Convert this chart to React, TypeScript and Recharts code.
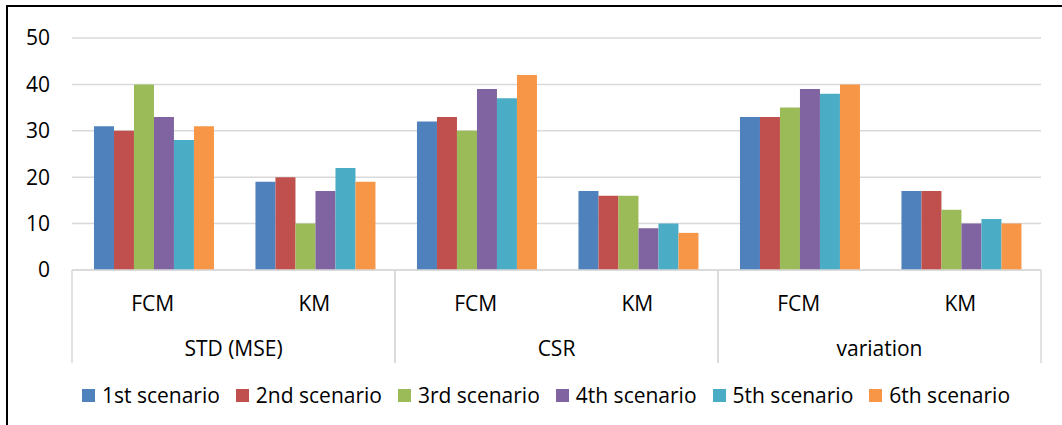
import React from 'react';
import { BarChart, Bar, XAxis, YAxis, CartesianGrid, Legend } from 'recharts';

const subCategories = ['FCM', 'KM', 'FCM', 'KM', 'FCM', 'KM'];
const groupCategories = ['STD (MSE)', 'STD (MSE)', 'CSR', 'CSR', 'variation', 'variation'];
const seriesNames = ['1st scenario', '2nd scenario', '3rd scenario', '4th scenario', '5th scenario', '6th scenario'];
const scenario1 = [31, 19, 32, 17, 33, 17];
const scenario2 = [30, 20, 33, 16, 33, 17];
const scenario3 = [40, 10, 30, 16, 35, 13];
const scenario4 = [33, 17, 39, 9, 39, 10];
const scenario5 = [28, 22, 37, 10, 38, 11];
const scenario6 = [31, 19, 42, 8, 40, 10];
const yTicks = [0, 10, 20, 30, 40, 50];

const colors = ['#4F81BD', '#C0504D', '#9BBB59', '#8064A2', '#4BACC6', '#F79646'];
const allSeries = [scenario1, scenario2, scenario3, scenario4, scenario5, scenario6];

const data = subCategories.map((sub, i) => {
  const row: Record<string, string | number> = { sub, group: groupCategories[i] };
  seriesNames.forEach((name, k) => {
    row[name] = allSeries[k][i];
  });
  return row;
});

const W = 1062;
const H = 425;
const MARGIN = { top: 38, right: 21, left: 0, bottom: 50 };
const Y_AXIS_W = 72;
const SUB_H = 60;
const GRP_H = 45;
const GROUP_W = (W - MARGIN.left - MARGIN.right - Y_AXIS_W) / 3;
const FONT = "'Open Sans', sans-serif";
const FS = 21;
const TEXT = '#000';
const AXIS_GREY = '#d9d9d9';

const SubTick = (props: any) => {
  const { x, y, payload } = props;
  return (
    <text x={x} y={y + 33} textAnchor="middle" dominantBaseline="central" fontFamily={FONT} fontSize={FS} fill={TEXT}>
      {payload.value}
    </text>
  );
};

const GroupTick = (props: any) => {
  const { x, y, payload } = props;
  return (
    <g>
      <line x1={x - GROUP_W / 2} x2={x - GROUP_W / 2} y1={y - SUB_H} y2={y + 33} stroke={AXIS_GREY} strokeWidth={1.5} />
      <line x1={x + GROUP_W / 2} x2={x + GROUP_W / 2} y1={y - SUB_H} y2={y + 33} stroke={AXIS_GREY} strokeWidth={1.5} />
      <text x={x} y={y + 18} textAnchor="middle" dominantBaseline="central" fontFamily={FONT} fontSize={FS} fill={TEXT}>
        {payload.value}
      </text>
    </g>
  );
};

const LegendContent = () => (
  <div
    style={{
      display: 'flex',
      justifyContent: 'center',
      alignItems: 'center',
      gap: 16,
      height: 26,
      lineHeight: '26px',
      fontFamily: FONT,
      fontSize: FS,
      color: TEXT,
      whiteSpace: 'nowrap',
      paddingLeft: 30,
    }}
  >
    {seriesNames.map((name, i) => (
      <div key={name} style={{ display: 'flex', alignItems: 'center' }}>
        <span style={{ display: 'inline-block', width: 13, height: 13, background: colors[i], marginRight: 7 }} />
        <span>{name}</span>
      </div>
    ))}
  </div>
);

export default function App() {
  return (
    <div style={{ position: 'absolute', left: 0, top: 0, width: W, height: H, background: '#fff' }}>
      <div
        style={{
          position: 'absolute',
          left: 6,
          top: 5,
          width: W - 6,
          height: H - 5,
          borderTop: '2px solid #000',
          borderLeft: '2px solid #000',
          boxSizing: 'border-box',
        }}
      />
      <div style={{ position: 'absolute', left: 0, top: 0 }}>
        <BarChart width={W} height={H} data={data} margin={MARGIN} barCategoryGap="13.6%" barGap={0}>
          <CartesianGrid vertical={false} stroke={AXIS_GREY} strokeWidth={1.5} />
          <XAxis
            dataKey="sub"
            height={SUB_H}
            tickLine={false}
            tickSize={0}
            tickMargin={0}
            axisLine={{ stroke: AXIS_GREY, strokeWidth: 1.5 }}
            tick={<SubTick />}
            interval={0}
          />
          <XAxis
            xAxisId="grp"
            dataKey="group"
            allowDuplicatedCategory={false}
            height={GRP_H}
            tickLine={false}
            tickSize={0}
            tickMargin={0}
            axisLine={false}
            tick={<GroupTick />}
            interval={0}
          />
          <YAxis
            width={Y_AXIS_W}
            domain={[0, 50]}
            ticks={yTicks}
            axisLine={false}
            tickLine={false}
            tickMargin={16}
            tick={{ fontFamily: FONT, fontSize: FS, fill: TEXT }}
          />
          <Legend
            layout="vertical"
            align="center"
            verticalAlign="middle"
            width={W}
            wrapperStyle={{ left: 0, top: 382 }}
            content={<LegendContent />}
          />
          {seriesNames.map((name, i) => (
            <Bar key={name} dataKey={name} fill={colors[i]} isAnimationActive={false} />
          ))}
        </BarChart>
      </div>
    </div>
  );
}
